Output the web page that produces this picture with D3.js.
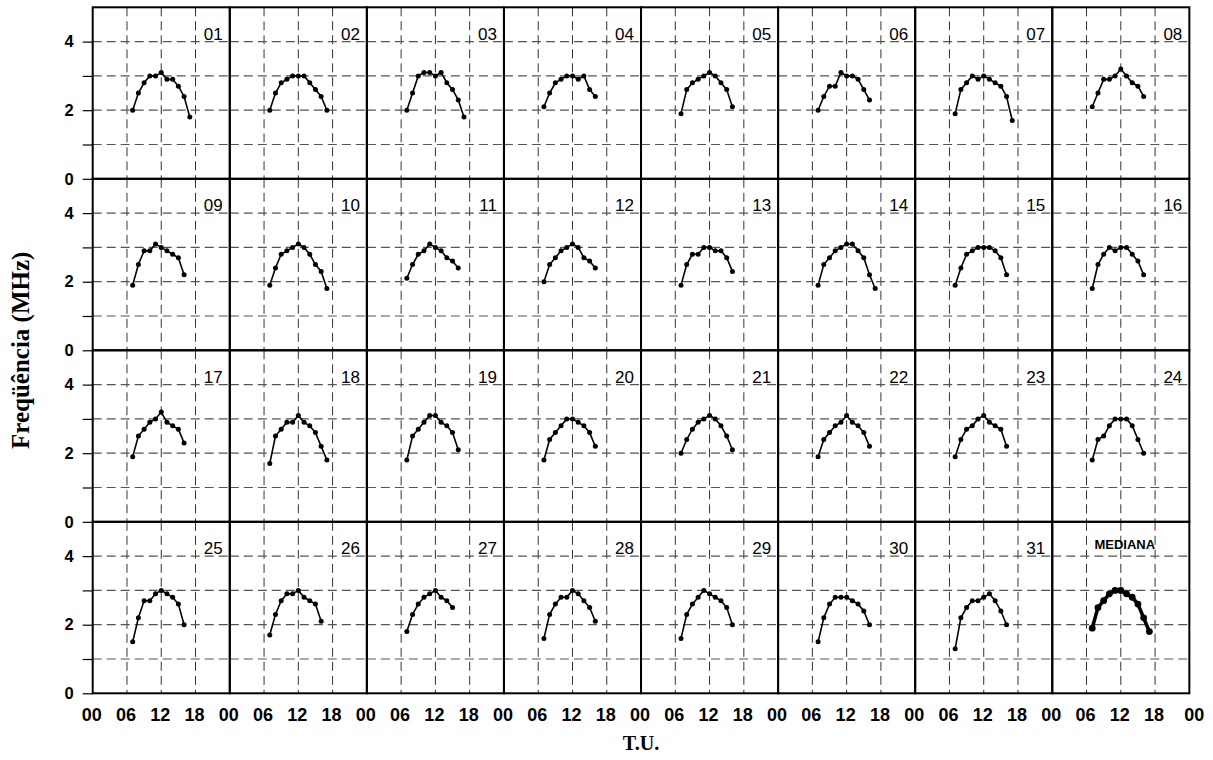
<!DOCTYPE html>
<html>
<head>
<meta charset="utf-8">
<script src="https://cdn.jsdelivr.net/npm/d3@7"></script>
<style>
  body { margin: 0; background: #fff; }
</style>
</head>
<body>
<div id="my_dataviz"></div>
<script>
// hours of the soundings (T.U.), one value per hour from 07
var hours = [7, 8, 9, 10, 11, 12, 13, 14, 15, 16, 17];

var dayLabels = ["01","02","03","04","05","06","07","08","09","10","11","12","13","14","15","16",
                 "17","18","19","20","21","22","23","24","25","26","27","28","29","30","31"];

// foF2 (MHz) for every day, starting at 07 T.U.
var dayValues = [
  [2.0, 2.5, 2.8, 3.0, 3.0, 3.1, 2.9, 2.9, 2.7, 2.4, 1.8],
  [2.0, 2.5, 2.8, 2.9, 3.0, 3.0, 3.0, 2.8, 2.6, 2.4, 2.0],
  [2.0, 2.5, 3.0, 3.1, 3.1, 3.0, 3.1, 2.8, 2.6, 2.3, 1.8],
  [2.1, 2.5, 2.8, 2.9, 3.0, 3.0, 2.9, 3.0, 2.6, 2.4],
  [1.9, 2.6, 2.8, 2.9, 3.0, 3.1, 3.0, 2.8, 2.6, 2.1],
  [2.0, 2.4, 2.7, 2.7, 3.1, 3.0, 3.0, 2.9, 2.6, 2.3],
  [1.9, 2.6, 2.8, 3.0, 2.9, 3.0, 2.9, 2.8, 2.7, 2.4, 1.7],
  [2.1, 2.5, 2.9, 2.9, 3.0, 3.2, 3.0, 2.8, 2.7, 2.4],
  [1.9, 2.5, 2.9, 2.9, 3.1, 3.0, 2.9, 2.8, 2.7, 2.2],
  [1.9, 2.4, 2.8, 2.9, 3.0, 3.1, 3.0, 2.8, 2.5, 2.3, 1.8],
  [2.1, 2.5, 2.8, 2.9, 3.1, 3.0, 2.9, 2.7, 2.6, 2.4],
  [2.0, 2.5, 2.7, 2.9, 3.0, 3.1, 3.0, 2.7, 2.6, 2.4],
  [1.9, 2.5, 2.8, 2.8, 3.0, 3.0, 2.9, 2.9, 2.7, 2.3],
  [1.9, 2.5, 2.7, 2.9, 3.0, 3.1, 3.1, 2.9, 2.7, 2.2, 1.8],
  [1.9, 2.4, 2.8, 2.9, 3.0, 3.0, 3.0, 2.9, 2.7, 2.2],
  [1.8, 2.5, 2.8, 3.0, 2.9, 3.0, 3.0, 2.8, 2.6, 2.2],
  [1.9, 2.5, 2.7, 2.9, 3.0, 3.2, 2.9, 2.8, 2.7, 2.3],
  [1.7, 2.5, 2.7, 2.9, 2.9, 3.1, 2.9, 2.8, 2.6, 2.2, 1.8],
  [1.8, 2.5, 2.7, 2.9, 3.1, 3.1, 2.9, 2.8, 2.6, 2.1],
  [1.8, 2.4, 2.6, 2.8, 3.0, 3.0, 2.9, 2.8, 2.6, 2.2],
  [2.0, 2.4, 2.7, 2.9, 3.0, 3.1, 3.0, 2.8, 2.5, 2.1],
  [1.9, 2.4, 2.6, 2.8, 2.9, 3.1, 2.9, 2.8, 2.6, 2.2],
  [1.9, 2.4, 2.7, 2.8, 3.0, 3.1, 2.9, 2.8, 2.7, 2.2],
  [1.8, 2.4, 2.5, 2.8, 3.0, 3.0, 3.0, 2.8, 2.4, 2.0],
  [1.5, 2.2, 2.7, 2.7, 2.9, 3.0, 2.9, 2.8, 2.6, 2.0],
  [1.7, 2.3, 2.7, 2.9, 2.9, 3.0, 2.8, 2.7, 2.6, 2.1],
  [1.8, 2.3, 2.6, 2.8, 2.9, 3.0, 2.8, 2.7, 2.5],
  [1.6, 2.3, 2.6, 2.8, 2.8, 3.0, 2.9, 2.7, 2.5, 2.1],
  [1.6, 2.3, 2.6, 2.8, 3.0, 2.9, 2.8, 2.7, 2.5, 2.0],
  [1.5, 2.2, 2.6, 2.8, 2.8, 2.8, 2.7, 2.6, 2.4, 2.0],
  [1.3, 2.2, 2.5, 2.7, 2.7, 2.8, 2.9, 2.7, 2.4, 2.0]
];

var medianLabel = "MEDIANA";
var medianValues = [1.9, 2.5, 2.7, 2.9, 3.0, 3.0, 2.9, 2.8, 2.6, 2.2, 1.8];

var xTickValues = [0, 6, 12, 18];
var xTickLabels = ["00", "06", "12", "18"];
var yTickValues = [0, 1, 2, 3, 4];
var gridY = [1, 2, 3, 4];

// set the dimensions of the graph
var margin = {top: 7.3, left: 92.7},
    nCols = 8, nRows = 4,
    panelW = 137.08,
    panelH = 171.5,
    width = nCols * panelW,
    height = nRows * panelH;

var svg = d3.select("#my_dataviz")
  .append("svg")
    .attr("width", 1213)
    .attr("height", 760)
  .append("g")
    .attr("transform", "translate(" + margin.left + "," + margin.top + ")");

// scales of one panel
var x = d3.scaleLinear().domain([0, 24]).range([0, panelW]);
var y = d3.scaleLinear().domain([0, 5]).range([panelH, 0]);

var line = d3.line()
    .x(function(d, i) { return x(hours[i]); })
    .y(function(d) { return y(d); });

// all 32 panels: 31 days + median
var panels = dayValues.map(function(v, i) { return {label: dayLabels[i], values: v, median: false}; });
panels.push({label: medianLabel, values: medianValues, median: true});

var panel = svg.selectAll(".panel")
  .data(panels)
  .enter()
  .append("g")
    .attr("class", "panel")
    .attr("transform", function(d, i) {
      return "translate(" + (i % nCols) * panelW + "," + Math.floor(i / nCols) * panelH + ")";
    });

// dashed grid
panel.selectAll(".vgrid")
  .data(xTickValues.slice(1))
  .enter()
  .append("line")
    .attr("x1", function(d) { return x(d); })
    .attr("x2", function(d) { return x(d); })
    .attr("y1", 0)
    .attr("y2", panelH)
    .style("stroke", "#333")
    .style("stroke-width", 1)
    .style("stroke-dasharray", "9,5");

panel.selectAll(".hgrid")
  .data(gridY)
  .enter()
  .append("line")
    .attr("x1", 0)
    .attr("x2", panelW)
    .attr("y1", function(d) { return y(d); })
    .attr("y2", function(d) { return y(d); })
    .style("stroke", "#555")
    .style("stroke-width", 1.2)
    .style("stroke-dasharray", "9,5");

// panel frame
panel.append("rect")
    .attr("width", panelW)
    .attr("height", panelH)
    .style("fill", "none")
    .style("stroke", "#000")
    .style("stroke-width", 2);

// the curves
panel.append("path")
    .attr("d", function(d) { return line(d.values); })
    .style("fill", "none")
    .style("stroke", "#000")
    .style("stroke-width", function(d) { return d.median ? 3.6 : 1.6; });

panel.each(function(p) {
  d3.select(this).selectAll("circle")
    .data(p.values)
    .enter()
    .append("circle")
      .attr("cx", function(d, i) { return x(hours[i]); })
      .attr("cy", function(d) { return y(d); })
      .attr("r", p.median ? 3.4 : 2.5)
      .style("fill", "#000");
});

// day labels
panel.filter(function(d) { return !d.median; })
  .append("text")
    .attr("x", panelW - 7)
    .attr("y", 32.5)
    .attr("text-anchor", "end")
    .style("font-family", "'Liberation Sans', Arial, sans-serif")
    .style("font-size", "17px")
    .text(function(d) { return d.label; });

panel.filter(function(d) { return d.median; })
  .append("text")
    .attr("x", panelW / 2 + 4)
    .attr("y", 27)
    .attr("text-anchor", "middle")
    .style("font-family", "'Liberation Sans', Arial, sans-serif")
    .style("font-size", "13px")
    .style("font-weight", "bold")
    .text(function(d) { return d.label; });

// Y axis on each row
for (var r = 0; r < nRows; r++) {
  var yAxis = svg.append("g")
      .attr("transform", "translate(0," + r * panelH + ")")
      .call(d3.axisLeft(y)
        .tickValues(yTickValues)
        .tickSize(10)
        .tickPadding(9)
        .tickFormat(function(d) { return d % 2 === 0 ? d : ""; }));
  yAxis.select(".domain").remove();
  yAxis.selectAll("line").style("stroke", "#000").style("stroke-width", 1.2);
  yAxis.selectAll("text")
      .style("font-family", "'Liberation Sans', Arial, sans-serif")
      .style("font-size", "16.5px")
      .style("font-weight", "bold");
}

// X labels under the bottom row
var xLab = svg.append("g").attr("transform", "translate(0," + (height + 28) + ")");
for (var c = 0; c < nCols; c++) {
  xTickValues.forEach(function(t, k) {
    xLab.append("text")
      .attr("x", c * panelW + x(t) - 1)
      .attr("y", 0)
      .attr("text-anchor", "middle")
      .style("font-family", "'Liberation Sans', Arial, sans-serif")
      .style("font-size", "18px")
      .style("font-weight", "bold")
      .text(xTickLabels[k]);
  });
}
xLab.append("text")
    .attr("x", width + 5)
    .attr("y", 0)
    .attr("text-anchor", "middle")
    .style("font-family", "'Liberation Sans', Arial, sans-serif")
    .style("font-size", "18px")
    .style("font-weight", "bold")
    .text(xTickLabels[0]);

// axis titles
svg.append("text")
    .attr("x", width / 2)
    .attr("y", height + 57)
    .attr("text-anchor", "middle")
    .style("font-family", "'Liberation Serif', 'Times New Roman', serif")
    .style("font-size", "20px")
    .style("font-weight", "bold")
    .text("T.U.");

svg.append("text")
    .attr("transform", "translate(" + (-64) + "," + (height / 2) + ") rotate(-90)")
    .attr("text-anchor", "middle")
    .style("font-family", "'Liberation Serif', 'Times New Roman', serif")
    .style("font-size", "25px")
    .style("font-weight", "bold")
    .text("Freqüência (MHz)");
</script>
</body>
</html>
